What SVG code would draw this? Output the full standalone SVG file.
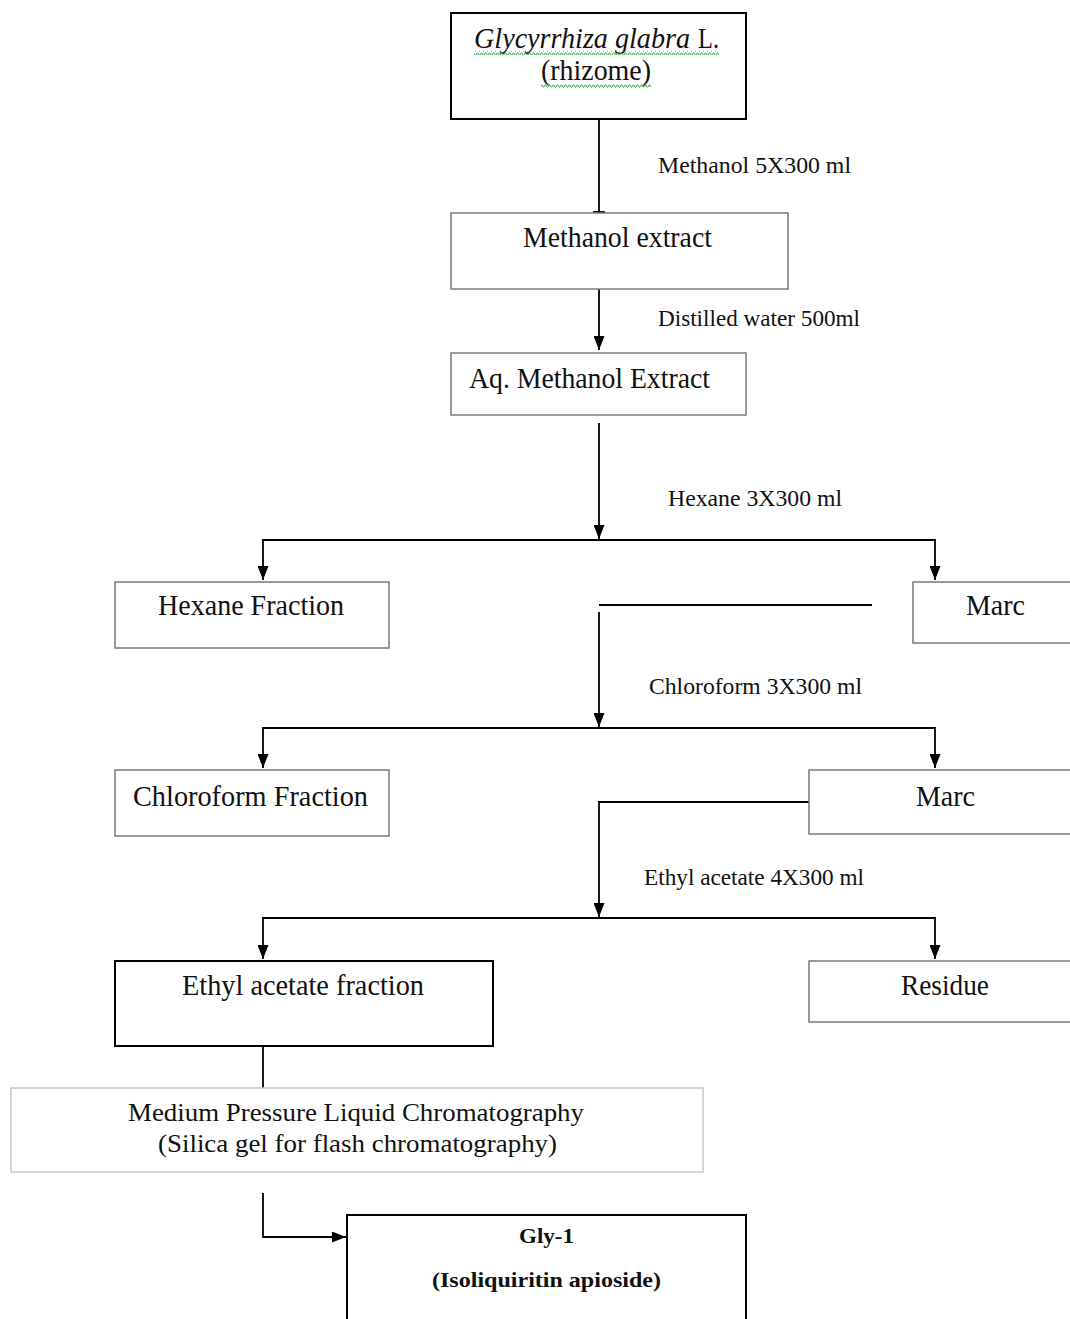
<svg xmlns="http://www.w3.org/2000/svg" width="1070" height="1319" viewBox="0 0 1070 1319">
<defs>
<marker id="ah" viewBox="0 0 14 11" refX="14" refY="5.5" markerWidth="14" markerHeight="11" markerUnits="userSpaceOnUse" orient="auto">
<path d="M0,0 L14,5.5 L0,11 Z" fill="#000"/>
</marker>
<pattern id="sq" width="4" height="4" patternUnits="userSpaceOnUse">
<polyline points="0,3 1,1 2,1 3,3 4,3" fill="none" stroke="#3cb043" stroke-width="1"/>
</pattern>
<style>
.t{font-family:"Liberation Serif","Times New Roman",serif;fill:#111;}
.big{font-size:29px;}
.sm{font-size:23px;}
.mp{font-size:25px;}
.bd{font-size:21px;font-weight:bold;}
.bk{fill:#fff;stroke:#000;stroke-width:2;}
.gr{fill:#fff;stroke:#7a7a7a;stroke-width:1.5;}
.lg{fill:#fff;stroke:#c8c8c8;stroke-width:1.5;}
.c{fill:none;stroke:#000;stroke-width:1.8;}
.ca{fill:none;stroke:#000;stroke-width:1.8;marker-end:url(#ah);}
</style>
</defs>
<rect width="1070" height="1319" fill="#fff"/>

<g id="connectors">
<line class="c" x1="599" y1="119" x2="599" y2="212"/>
<line class="c" x1="593" y1="212" x2="605" y2="212"/>
<line class="ca" x1="599" y1="289" x2="599" y2="350"/>
<line class="ca" x1="599" y1="423" x2="599" y2="539"/>
<polyline class="ca" points="599,540 263,540 263,580"/>
<polyline class="ca" points="599,540 935,540 935,580"/>
<line class="c" x1="599" y1="605" x2="872" y2="605"/>
<line class="ca" x1="599" y1="612" x2="599" y2="727"/>
<polyline class="ca" points="599,728 263,728 263,768"/>
<polyline class="ca" points="599,728 935,728 935,768"/>
<polyline class="ca" points="809,802 599,802 599,917"/>
<polyline class="ca" points="599,918 263,918 263,959"/>
<polyline class="ca" points="599,918 935,918 935,959"/>
<line class="c" x1="263" y1="1046" x2="263" y2="1088"/>
<polyline class="ca" points="263,1193 263,1237 346,1237"/>
</g>

<g id="labels">
<text class="t sm" x="658" y="173" textLength="193" lengthAdjust="spacingAndGlyphs">Methanol 5X300 ml</text>
<text class="t sm" x="658" y="326" textLength="202" lengthAdjust="spacingAndGlyphs">Distilled water 500ml</text>
<text class="t sm" x="668" y="506" textLength="174" lengthAdjust="spacingAndGlyphs">Hexane 3X300 ml</text>
<text class="t sm" x="649" y="694" textLength="213" lengthAdjust="spacingAndGlyphs">Chloroform 3X300 ml</text>
<text class="t sm" x="644" y="885" textLength="220" lengthAdjust="spacingAndGlyphs">Ethyl acetate 4X300 ml</text>
</g>

<g id="node-glycyrrhiza">
<rect class="bk" x="451" y="13" width="295" height="106"/>
<text class="t big" x="474" y="48" font-style="italic" textLength="216" lengthAdjust="spacingAndGlyphs">Glycyrrhiza glabra</text>
<text class="t big" x="698" y="48" textLength="21" lengthAdjust="spacingAndGlyphs">L.</text>
<text class="t big" x="541" y="80" textLength="110" lengthAdjust="spacingAndGlyphs">(rhizome)</text>
<rect x="474" y="51" width="245" height="4" fill="url(#sq)"/>
<rect x="541" y="84" width="110" height="4" fill="url(#sq)"/>
</g>

<g id="node-methanol-extract">
<rect class="gr" x="451" y="213" width="337" height="76"/>
<text class="t big" x="523" y="247" textLength="189" lengthAdjust="spacingAndGlyphs">Methanol extract</text>
</g>

<g id="node-aq-methanol">
<rect class="gr" x="451" y="353" width="295" height="62"/>
<text class="t big" x="469" y="388" textLength="241" lengthAdjust="spacingAndGlyphs">Aq. Methanol Extract</text>
</g>

<g id="node-hexane-fraction">
<rect class="gr" x="115" y="582" width="274" height="66"/>
<text class="t big" x="158" y="615" textLength="186" lengthAdjust="spacingAndGlyphs">Hexane Fraction</text>
</g>

<g id="node-marc-1">
<rect class="gr" x="913" y="582" width="170" height="61"/>
<text class="t big" x="966" y="615" textLength="59" lengthAdjust="spacingAndGlyphs">Marc</text>
</g>

<g id="node-chloroform-fraction">
<rect class="gr" x="115" y="770" width="274" height="66"/>
<text class="t big" x="133" y="806" textLength="235" lengthAdjust="spacingAndGlyphs">Chloroform Fraction</text>
</g>

<g id="node-marc-2">
<rect class="gr" x="809" y="770" width="274" height="64"/>
<text class="t big" x="916" y="806" textLength="59" lengthAdjust="spacingAndGlyphs">Marc</text>
</g>

<g id="node-ethyl-acetate-fraction">
<rect class="bk" x="115" y="961" width="378" height="85"/>
<text class="t big" x="182" y="995" textLength="242" lengthAdjust="spacingAndGlyphs">Ethyl acetate fraction</text>
</g>

<g id="node-residue">
<rect class="gr" x="809" y="961" width="274" height="61"/>
<text class="t big" x="901" y="995" textLength="88" lengthAdjust="spacingAndGlyphs">Residue</text>
</g>

<g id="node-mplc">
<rect class="lg" x="11" y="1088" width="692" height="84"/>
<text class="t mp" x="128" y="1121" textLength="456" lengthAdjust="spacingAndGlyphs">Medium Pressure Liquid Chromatography</text>
<text class="t mp" x="158" y="1152" textLength="399" lengthAdjust="spacingAndGlyphs">(Silica gel for flash chromatography)</text>
</g>

<g id="node-gly1">
<rect class="bk" x="347" y="1215" width="399" height="120"/>
<text class="t bd" x="519" y="1243" textLength="55" lengthAdjust="spacingAndGlyphs">Gly-1</text>
<text class="t bd" x="432" y="1287" textLength="229" lengthAdjust="spacingAndGlyphs">(Isoliquiritin apioside)</text>
</g>
</svg>
